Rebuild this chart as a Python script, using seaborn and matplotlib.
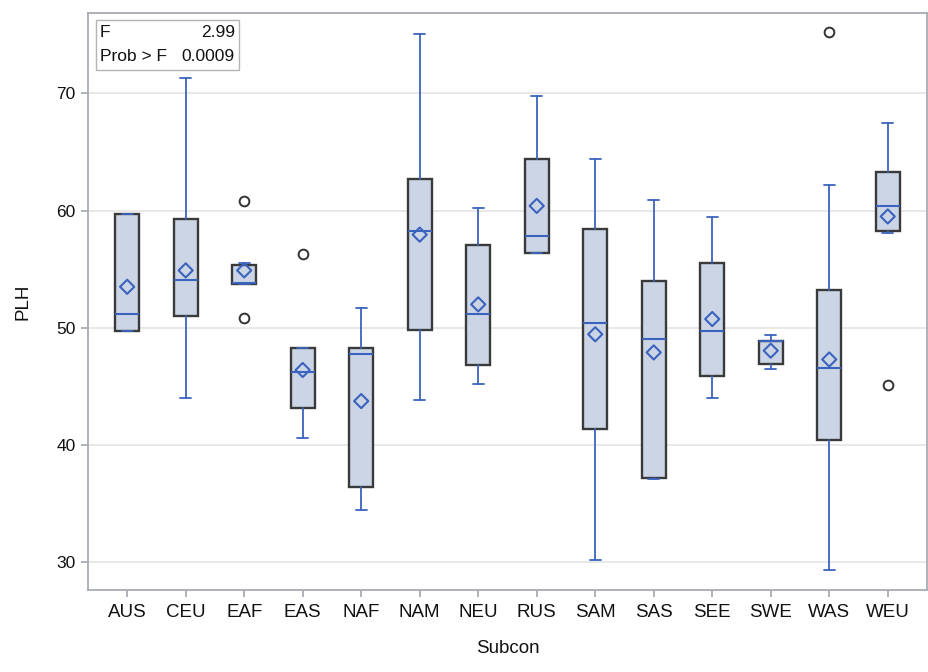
import matplotlib
matplotlib.use("Agg")
import matplotlib.pyplot as plt
from matplotlib.patches import Rectangle
import seaborn as sns

# Box-plot summary of PLH by Subcon
categories = ["AUS", "CEU", "EAF", "EAS", "NAF", "NAM", "NEU",
              "RUS", "SAM", "SAS", "SEE", "SWE", "WAS", "WEU"]
whisker_low = [49.7, 44.0, 53.7, 40.6, 34.5, 43.8, 45.2,
               56.4, 30.2, 37.1, 44.0, 46.45, 29.3, 58.05]
q1 = [49.7, 51.0, 53.7, 43.2, 36.4, 49.8, 46.85,
      56.4, 41.4, 37.2, 45.9, 46.9, 40.4, 58.25]
median = [51.2, 54.1, 53.8, 46.2, 47.8, 58.3, 51.2,
          57.8, 50.4, 49.05, 49.75, 48.9, 46.6, 60.4]
q3 = [59.7, 59.3, 55.4, 48.3, 48.3, 62.7, 57.1,
      64.4, 58.4, 54.0, 55.55, 48.9, 53.2, 63.3]
whisker_high = [59.7, 71.3, 55.5, 48.3, 51.7, 75.1, 60.25,
                69.8, 64.4, 60.9, 59.45, 49.35, 62.2, 67.5]
means = [53.5, 54.9, 54.9, 46.4, 43.75, 57.95, 52.0,
         60.4, 49.45, 47.9, 50.75, 48.05, 47.3, 59.5]
outlier_cat = ["EAF", "EAF", "EAS", "WAS", "WEU"]
outlier_val = [60.8, 50.85, 56.3, 75.2, 45.1]

f_value = "2.99"
prob_f = "0.0009"

sns.set_theme(style="white")
plt.rcParams["font.family"] = ["Liberation Sans", "DejaVu Sans"]

BLUE = "#3B63BE"
FILL = "#CBD5E5"
EDGE = "#3A3A3A"
FRAME = "#A8ACB3"

fig = plt.figure(figsize=(9.29, 6.72), dpi=100)
ax = fig.add_axes([0.0947, 0.1225, 0.9031, 0.8575])

positions = list(range(len(categories)))
stats = []
for i, cat in enumerate(categories):
    stats.append(dict(
        label=cat, whislo=whisker_low[i], q1=q1[i], med=median[i],
        q3=q3[i], whishi=whisker_high[i],
        fliers=[v for c, v in zip(outlier_cat, outlier_val) if c == cat],
    ))

ax.bxp(stats, positions=positions, widths=0.415, capwidths=0.19,
       patch_artist=True, showmeans=False,
       boxprops=dict(facecolor=FILL, edgecolor=EDGE, linewidth=1.7),
       whiskerprops=dict(color=BLUE, linewidth=1.3),
       capprops=dict(color=BLUE, linewidth=1.3),
       medianprops=dict(color=BLUE, linewidth=1.5),
       flierprops=dict(marker="o", markerfacecolor="none",
                       markeredgecolor="#333333", markersize=7,
                       markeredgewidth=1.4),
       zorder=3)

# Group means as open diamonds
sns.scatterplot(x=positions, y=means, marker="D", s=52,
                facecolor="none", edgecolor=BLUE, linewidth=1.5,
                ax=ax, zorder=5, legend=False)

ax.set_xlim(-0.67, 13.67)
ax.set_ylim(27.66, 76.82)
ax.set_yticks([30, 40, 50, 60, 70])
ax.set_xticks(positions)
ax.set_xticklabels(categories)

ax.yaxis.grid(True, color="#E8E8E8", linewidth=1.4, zorder=0)
ax.xaxis.grid(False)
ax.set_axisbelow(True)

for sp in ax.spines.values():
    sp.set_color(FRAME)
    sp.set_linewidth(1.3)

ax.tick_params(axis="both", which="both", direction="out", length=5,
               width=1.3, color=FRAME, labelcolor="#111111",
               pad=4, bottom=True, left=True)
ax.tick_params(axis="x", labelsize=13.5, pad=5)
ax.tick_params(axis="y", labelsize=12.5)

ax.set_xlabel("Subcon", fontsize=13.5, color="#111111", labelpad=14)
ax.set_ylabel("PLH", fontsize=13.5, color="#111111", labelpad=18)

# F statistic inset
ax.add_patch(Rectangle((0.0095, 0.9016), 0.1705, 0.0864,
                       transform=ax.transAxes, facecolor="white",
                       edgecolor="#B4B4B4", linewidth=1.0, zorder=6))
ax.text(0.0143, 0.9676, "F", transform=ax.transAxes, ha="left",
        va="center", fontsize=12.5, color="#111111", zorder=7)
ax.text(0.1752, 0.9676, f_value, transform=ax.transAxes, ha="right",
        va="center", fontsize=12.5, color="#111111", zorder=7)
ax.text(0.0143, 0.9258, "Prob > F", transform=ax.transAxes, ha="left",
        va="center", fontsize=12.5, color="#111111", zorder=7)
ax.text(0.1752, 0.9258, prob_f, transform=ax.transAxes, ha="right",
        va="center", fontsize=12.5, color="#111111", zorder=7)

fig.savefig("out.png", dpi=100)
